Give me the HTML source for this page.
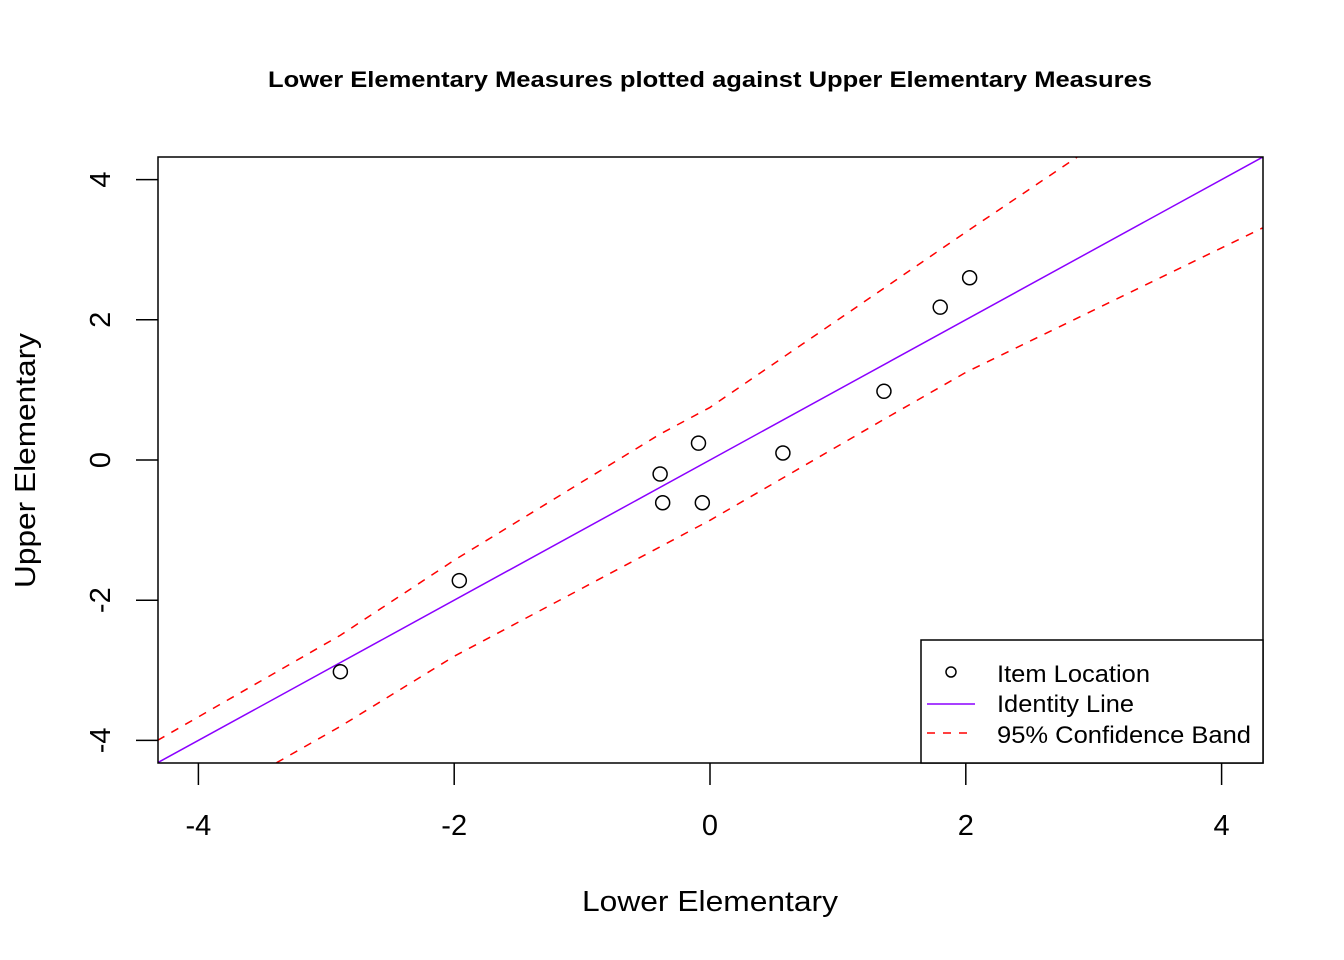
<!DOCTYPE html>
<html><head><meta charset="utf-8"><style>
body{margin:0;background:#fff}
svg{display:block;font-family:"Liberation Sans",Arial,sans-serif}
</style></head><body>
<svg id="chart" width="1344" height="960" viewBox="0 0 1344 960">
<text x="268" y="87" font-size="22" font-weight="bold" textLength="884" lengthAdjust="spacingAndGlyphs">Lower Elementary Measures plotted against Upper Elementary Measures</text>
<text x="582" y="911" font-size="29" textLength="256" lengthAdjust="spacingAndGlyphs">Lower Elementary</text>
<text transform="translate(35,588) rotate(-90)" font-size="29" textLength="255" lengthAdjust="spacingAndGlyphs">Upper Elementary</text>
<g id="axes"></g>
<g id="marks"></g>
<rect x="158" y="157" width="1105" height="606" fill="none" stroke="#000" stroke-width="1.5"/>
<g>
<rect x="921" y="640" width="342" height="123" fill="#fff" stroke="#000" stroke-width="1.5"/>
<circle cx="951" cy="672" r="5" fill="none" stroke="#000" stroke-width="1.5"/>
<text x="997" y="682" font-size="24" textLength="153" lengthAdjust="spacingAndGlyphs">Item Location</text>
<line x1="927" y1="704" x2="975" y2="704" stroke="#8b00ff" stroke-width="1.5"/>
<text x="997" y="712" font-size="24" textLength="137" lengthAdjust="spacingAndGlyphs">Identity Line</text>
<line x1="927" y1="733" x2="975" y2="733" stroke="#ff0000" stroke-width="1.5" stroke-dasharray="8,8"/>
<text x="997" y="743" font-size="24" textLength="254" lengthAdjust="spacingAndGlyphs">95% Confidence Band</text>
</g>
</svg>
<script>
const xValues = [-2.89, -1.96, -0.39, -0.37, -0.09, -0.06, 0.57, 1.36, 1.80, 2.03];
const yValues = [-3.02, -1.72, -0.20, -0.61, 0.24, -0.61, 0.10, 0.98, 2.18, 2.60];
const upperBandX = [-4.32, -2.89, -2.0, -0.39, 0.0, 2.0, 2.87];
const upperBandY = [-4.0, -2.50, -1.43, 0.37, 0.75, 3.25, 4.32];
const lowerBandX = [-3.39, -2.89, -2.0, 0.0, 1.36, 2.0, 4.32];
const lowerBandY = [-4.32, -3.80, -2.80, -0.86, 0.58, 1.25, 3.31];
const xTicks = [-4, -2, 0, 2, 4];
const yTicks = [-4, -2, 0, 2, 4];
const domain = [-4.32, 4.32];

const NS = "http://www.w3.org/2000/svg";
const sx = v => 710 + v * 127.9;
const sy = v => 460 - v * 70.1;
const axes = document.getElementById('axes');
const marks = document.getElementById('marks');
function mk(tag, attrs, parent){const e=document.createElementNS(NS,tag);for(const k in attrs)e.setAttribute(k,attrs[k]);parent.appendChild(e);return e;}

xTicks.forEach(t=>{
  const l=mk('line',{x1:sx(t),x2:sx(t),y1:763,y2:785,stroke:'#000','stroke-width':1.5},axes);
  
  
  const tx=mk('text',{x:sx(t),y:835,'text-anchor':'middle','font-size':29},axes);
  tx.textContent=t;
  
  
});
yTicks.forEach(t=>{
  const l=mk('line',{x1:136,x2:158,y1:sy(t),y2:sy(t),stroke:'#000','stroke-width':1.5},axes);
  
  
  const tx=mk('text',{transform:`translate(110,${sy(t)}) rotate(-90)`,'text-anchor':'middle','font-size':29},axes);
  tx.textContent=t;
  
  
});
const clip=mk('clipPath',{id:'pc'},marks);
mk('rect',{x:158,y:157,width:1105,height:606},clip);
const g=mk('g',{'clip-path':'url(#pc)'},marks);
const id=mk('line',{x1:sx(domain[0]),y1:sy(domain[0]),x2:sx(domain[1]),y2:sy(domain[1]),stroke:'#8b00ff','stroke-width':1.5},g);


function band(xs,ys,name){
  const p=mk('polyline',{points:xs.map((x,i)=>sx(x)+','+sy(ys[i])).join(' '),fill:'none',stroke:'#ff0000','stroke-width':1.5,'stroke-dasharray':'8,8'},g);
  
  
}
band(upperBandX,upperBandY,'upper-confidence-band');
band(lowerBandX,lowerBandY,'lower-confidence-band');
xValues.forEach((x,i)=>{
  const c=mk('circle',{cx:sx(x),cy:sy(yValues[i]),r:7,fill:'none',stroke:'#000','stroke-width':1.5},marks);
  
  
});
</script>
</body></html>
